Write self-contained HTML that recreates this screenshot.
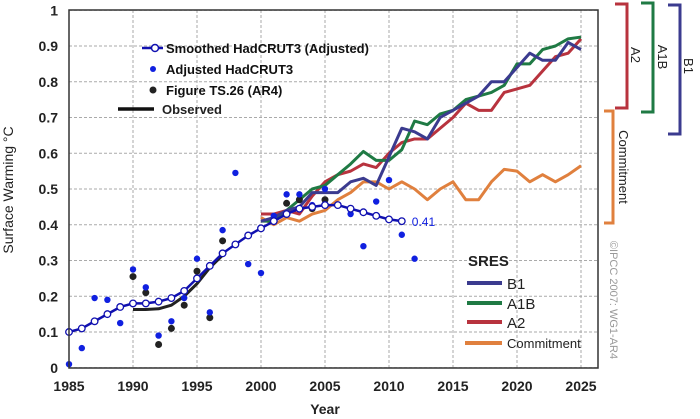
<!DOCTYPE html>
<html><head><meta charset="utf-8"><style>
html,body{margin:0;padding:0;background:#fff;width:700px;height:419px;overflow:hidden}
svg{display:block;font-family:"Liberation Sans",sans-serif}
</style></head><body>
<svg id="chart" width="700" height="419" viewBox="0 0 700 419">
<g id="grid"></g>
<g id="series"></g>
<rect x="69" y="10" width="529" height="358" fill="none" stroke="#333" stroke-width="1.5"/>
<g id="axes"></g>
<text x="13" y="190" transform="rotate(-90 13 190)" text-anchor="middle" font-size="14" fill="#222">Surface Warming °C</text>
<text x="325" y="414" text-anchor="middle" font-size="14" font-weight="bold" fill="#222">Year</text>
<g>
<line x1="142" y1="48" x2="163" y2="48" stroke="#1010b0" stroke-width="2.5"/>
<circle cx="155" cy="48" r="3.5" fill="#fff" stroke="#1010b0" stroke-width="1.5"/>
<text x="166" y="53" font-size="13" font-weight="bold" fill="#111">Smoothed HadCRUT3 (Adjusted)</text>
<circle cx="153" cy="69" r="3" fill="#1020e0"/>
<text x="166" y="74" font-size="13" font-weight="bold" fill="#111">Adjusted HadCRUT3</text>
<circle cx="153" cy="90" r="3.5" fill="#222"/>
<text x="166" y="95" font-size="13" font-weight="bold" fill="#111">Figure TS.26 (AR4)</text>
<line x1="118" y1="109" x2="154" y2="109" stroke="#111" stroke-width="3.5"/>
<text x="162" y="114" font-size="13" font-weight="bold" fill="#222">Observed</text>
</g>
<g>
<text x="468" y="266" font-size="15" font-weight="bold" fill="#222">SRES</text>
<line x1="467" y1="283" x2="502" y2="283" stroke="#3b3b8f" stroke-width="4"/>
<text x="507" y="289" font-size="15" fill="#222">B1</text>
<line x1="467" y1="303" x2="502" y2="303" stroke="#1f7a44" stroke-width="4"/>
<text x="507" y="309" font-size="15" fill="#222">A1B</text>
<line x1="467" y1="322" x2="502" y2="322" stroke="#b8333e" stroke-width="4"/>
<text x="507" y="328" font-size="15" fill="#222">A2</text>
<line x1="465" y1="343" x2="502" y2="343" stroke="#e0803e" stroke-width="4"/>
<text x="507" y="348" font-size="13" fill="#222">Commitment</text>
</g>
<g fill="none" stroke-width="3">
<polyline points="615,4 627,4 627,108 615,108" stroke="#b8333e"/>
<polyline points="641,3 653,3 653,112 641,112" stroke="#1f7a44"/>
<polyline points="668,5 680,5 680,134 668,134" stroke="#3b3b8f"/>
<polyline points="604,111 613,111 613,223 604,223" stroke="#e0803e"/>
</g>
<g font-size="13" fill="#222">
<text x="631" y="55" transform="rotate(90 631 55)" text-anchor="middle">A2</text>
<text x="658" y="57" transform="rotate(90 658 57)" text-anchor="middle">A1B</text>
<text x="684" y="66" transform="rotate(90 684 66)" text-anchor="middle">B1</text>
<text x="619" y="167" transform="rotate(90 619 167)" text-anchor="middle">Commitment</text>
</g>
<text x="610" y="300" transform="rotate(90 610 300)" text-anchor="middle" font-size="11" fill="#999">©IPCC 2007: WG1-AR4</text>
</svg>
<script>
const yearsSmooth=[1985,1986,1987,1988,1989,1990,1991,1992,1993,1994,1995,1996,1997,1998,1999,2000,2001,2002,2003,2004,2005,2006,2007,2008,2009,2010,2011];
const smoothVals=[0.10,0.11,0.13,0.15,0.17,0.18,0.18,0.185,0.195,0.215,0.25,0.285,0.32,0.345,0.37,0.39,0.41,0.43,0.445,0.45,0.455,0.455,0.445,0.435,0.425,0.415,0.41];
const yearsAdj=[1985,1986,1987,1988,1989,1990,1991,1992,1993,1994,1995,1996,1997,1998,1999,2000,2001,2002,2003,2004,2005,2006,2007,2008,2009,2010,2011,2012];
const adjVals=[0.01,0.055,0.195,0.19,0.125,0.275,0.225,0.09,0.13,0.195,0.305,0.155,0.385,0.545,0.29,0.265,0.425,0.485,0.485,0.455,0.50,0.455,0.43,0.34,0.465,0.525,0.372,0.305];
const yearsTS=[1990,1991,1992,1993,1994,1995,1996,1997,2002,2003,2004,2005];
const tsVals=[0.255,0.21,0.065,0.11,0.175,0.27,0.14,0.355,0.46,0.47,0.445,0.47];
const yearsObs=[1990,1991,1992,1993,1994,1995,1996,1997];
const obsVals=[0.163,0.163,0.165,0.175,0.2,0.235,0.28,0.315];
const yearsScen=[2000,2001,2002,2003,2004,2005,2006,2007,2008,2009,2010,2011,2012,2013,2014,2015,2016,2017,2018,2019,2020,2021,2022,2023,2024,2025];
const b1Vals=[0.41,0.42,0.44,0.45,0.49,0.49,0.49,0.52,0.53,0.51,0.59,0.67,0.66,0.64,0.70,0.72,0.74,0.76,0.80,0.80,0.84,0.88,0.86,0.86,0.91,0.89];
const a1bVals=[0.41,0.41,0.44,0.47,0.50,0.51,0.54,0.57,0.605,0.58,0.58,0.61,0.69,0.68,0.71,0.72,0.75,0.76,0.77,0.79,0.85,0.85,0.89,0.90,0.92,0.925];
const a2Vals=[0.43,0.43,0.44,0.43,0.48,0.52,0.54,0.55,0.57,0.56,0.60,0.63,0.64,0.64,0.67,0.70,0.74,0.72,0.72,0.77,0.78,0.79,0.83,0.87,0.88,0.92];
const commitVals=[0.42,0.40,0.42,0.41,0.43,0.44,0.47,0.49,0.52,0.52,0.50,0.52,0.50,0.47,0.50,0.52,0.47,0.47,0.52,0.555,0.55,0.52,0.54,0.52,0.54,0.565];
const xTicks=[1985,1990,1995,2000,2005,2010,2015,2020,2025];
const yTicks=[0,0.1,0.2,0.3,0.4,0.5,0.6,0.7,0.8,0.9,1];
const yTickLabels=["0","0.1","0.2","0.3","0.4","0.5","0.6","0.7","0.8","0.9","1"];
const lastLabel="0.41";

const NS="http://www.w3.org/2000/svg";
const X=y=>69+(y-1985)*12.8;
const Y=v=>367.75-v*357.5;
function mk(tag,attrs,parent){const e=document.createElementNS(NS,tag);for(const k in attrs)e.setAttribute(k,attrs[k]);parent.appendChild(e);return e;}
const grid=document.getElementById('grid'),axes=document.getElementById('axes'),ser=document.getElementById('series');
xTicks.forEach(t=>{
 const l=mk('line',{x1:X(t),x2:X(t),y1:10,y2:368,stroke:'#aaa','stroke-width':1,'stroke-dasharray':'3,2'},grid);
 
 
 const tx=mk('text',{x:X(t),y:391,'text-anchor':'middle','font-size':14,'font-weight':'bold',fill:'#222'},axes);
 tx.textContent=t;
 
 
});
yTicks.forEach((t,i)=>{
 const l=mk('line',{x1:69,x2:598,y1:Y(t),y2:Y(t),stroke:'#aaa','stroke-width':1,'stroke-dasharray':'3,2'},grid);
 
 
 const tx=mk('text',{x:58,y:Y(t)+5,'text-anchor':'end','font-size':14,'font-weight':'bold',fill:'#222'},axes);
 tx.textContent=yTickLabels[i];
 
 
});
function line(xs,vs,color,w,name){
 const p=mk('polyline',{points:xs.map((x,i)=>X(x)+','+Y(vs[i])).join(' '),fill:'none',stroke:color,'stroke-width':w,'stroke-linejoin':'round'},ser);
 
 
}
line(yearsScen,commitVals,'#e0803e',3,'commitment-line');
line(yearsScen,a2Vals,'#b8333e',3,'a2-line');
line(yearsScen,a1bVals,'#1f7a44',3,'a1b-line');
line(yearsScen,b1Vals,'#3b3b8f',3,'b1-line');
line(yearsObs,obsVals,'#222',3,'observed-line');
yearsTS.forEach((y,i)=>{
 const c=mk('circle',{cx:X(y),cy:Y(tsVals[i]),r:3.5,fill:'#222'},ser);
 
 
});
yearsAdj.forEach((y,i)=>{
 const c=mk('circle',{cx:X(y),cy:Y(adjVals[i]),r:3.2,fill:'#1020e0'},ser);
 
 
});
line(yearsSmooth,smoothVals,'#1010b0',2.5,'smoothed-line');
yearsSmooth.forEach((y,i)=>{
 const c=mk('circle',{cx:X(y),cy:Y(smoothVals[i]),r:3.3,fill:'#fff',stroke:'#1010b0','stroke-width':1.3},ser);
 
 
});
const n=yearsSmooth.length-1;
const lab=mk('text',{x:X(yearsSmooth[n])+10,y:Y(smoothVals[n])+5,'font-size':12,fill:'#1020e0'},ser);
lab.textContent=lastLabel;


</script>
</body></html>
